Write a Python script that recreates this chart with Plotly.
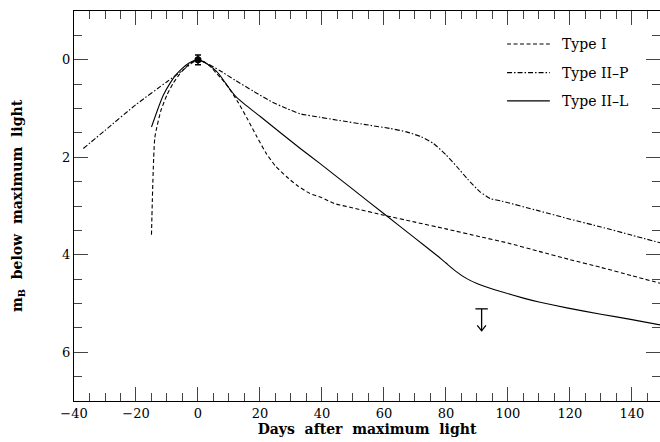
import plotly.graph_objects as go

# ---- data ----
days_I = [-15, -13.9, -12, -10, -8, -6, -4, -2, 0, 2, 4, 6, 8, 10, 13, 16, 19, 22, 25, 28.6, 32, 36, 40, 44, 50, 60, 70, 80, 91, 100, 110, 120, 130, 140, 150]
mag_I = [3.59, 1.59, 1.05, 0.72, 0.48, 0.30, 0.16, 0.05, 0.0, 0.04, 0.14, 0.28, 0.42, 0.58, 0.88, 1.22, 1.58, 1.92, 2.18, 2.40, 2.58, 2.74, 2.83, 2.95, 3.04, 3.19, 3.33, 3.47, 3.63, 3.76, 3.93, 4.10, 4.26, 4.43, 4.60]

days_IIP = [-37, -30, -20, -10, -5, -2, 0, 3, 7, 12, 18, 24, 28.6, 33, 39.4, 45, 55, 62, 67.3, 72, 76, 80, 83.6, 87, 91, 94.4, 98, 110, 120, 130, 140, 150]
mag_IIP = [1.82, 1.45, 0.92, 0.45, 0.22, 0.07, 0.0, 0.08, 0.22, 0.42, 0.65, 0.87, 1.00, 1.11, 1.18, 1.24, 1.34, 1.41, 1.48, 1.58, 1.72, 1.95, 2.20, 2.45, 2.71, 2.85, 2.90, 3.10, 3.27, 3.43, 3.60, 3.77]

days_IIL = [-15, -13, -11.2, -9, -7, -5, -3, -1, 0, 2, 4, 6, 8, 10, 12, 15, 20, 33, 39.4, 50, 60, 70, 77, 80, 83, 86.7, 90, 94, 97.4, 105, 110, 119, 130, 140, 150]
mag_IIL = [1.38, 1.02, 0.73, 0.48, 0.30, 0.17, 0.07, 0.01, 0.0, 0.05, 0.13, 0.24, 0.40, 0.58, 0.74, 0.91, 1.16, 1.82, 2.13, 2.66, 3.16, 3.66, 4.01, 4.17, 4.33, 4.49, 4.59, 4.68, 4.75, 4.89, 4.97, 5.09, 5.22, 5.33, 5.45]

peak_day = [0]
peak_mag = [0]
peak_err = [0.1]

limit_day = 91.5
limit_mag = 5.11
limit_len = 0.45

series_names = ["Type I", "Type II–P", "Type II–L"]

FONT = "DejaVu Serif"
dashes = ["4px,2.5px", "5px,2px,1.5px,2px", "solid"]

fig = go.Figure()
for name, x, y, d in zip(series_names, [days_I, days_IIP, days_IIL], [mag_I, mag_IIP, mag_IIL], dashes):
    fig.add_trace(go.Scatter(x=x, y=y, mode="lines", name=name,
                             line=dict(color="black", width=1.1, dash=d, shape="spline", smoothing=0.5),
                             showlegend=False))

# peak point with error bar
fig.add_trace(go.Scatter(x=peak_day, y=peak_mag, mode="markers",
                         marker=dict(color="black", size=7),
                         error_y=dict(type="data", array=peak_err, color="black", thickness=1.5, width=3),
                         showlegend=False))

# upper limit symbol
tip = limit_mag + limit_len
fig.add_trace(go.Scatter(x=[limit_day - 2, limit_day + 2, None, limit_day, limit_day, None,
                            limit_day - 1.4, limit_day, limit_day + 1.4],
                         y=[limit_mag, limit_mag, None, limit_mag, tip, None,
                            tip - 0.11, tip, tip - 0.11],
                         mode="lines", line=dict(color="black", width=1.3), showlegend=False))

# manual legend
leg_y = [0.9155, 0.842, 0.7696]
for name, d, yy in zip(series_names, dashes, leg_y):
    fig.add_shape(type="line", xref="paper", yref="paper", x0=0.739, x1=0.812, y0=yy, y1=yy,
                  line=dict(color="black", width=1.1, dash=d))
    fig.add_annotation(xref="paper", yref="paper", x=0.829, y=yy, text=name, showarrow=False,
                       xanchor="left", yanchor="middle", font=dict(family=FONT, size=14, color="black"))

axis_common = dict(showline=True, linecolor="black", linewidth=1.2, mirror="allticks",
                   ticks="inside", ticklen=14, tickwidth=1, tickcolor="#444",
                   showgrid=False, zeroline=False, automargin=False,
                   tickfont=dict(family=FONT, size=13, color="black"))

fig.update_xaxes(range=[-40, 149.05], dtick=20, tick0=0,
                 minor=dict(ticks="inside", dtick=5, ticklen=8, tickcolor="#444", tickwidth=1, showgrid=False),
                 title=dict(text="<b>Days  after  maximum  light</b>", font=dict(family=FONT, size=14, color="black"), standoff=2),
                 **axis_common)
fig.update_yaxes(range=[7, -1], dtick=2, tick0=0,
                 minor=dict(ticks="inside", dtick=0.5, ticklen=8, tickcolor="#444", tickwidth=1, showgrid=False),
                 title=dict(text="<b>m<sub>B</sub>  below  maximum  light</b>", font=dict(family=FONT, size=14, color="black"), standoff=36),
                 **axis_common)

fig.update_layout(width=660, height=442, margin=dict(l=74, r=0, t=11, b=41),
                  plot_bgcolor="white", paper_bgcolor="white",
                  font=dict(family=FONT, color="black"))

fig.write_html("out.html", config={"displayModeBar": False},
               post_script="document.body.style.margin='0';document.body.style.overflow='hidden';")
